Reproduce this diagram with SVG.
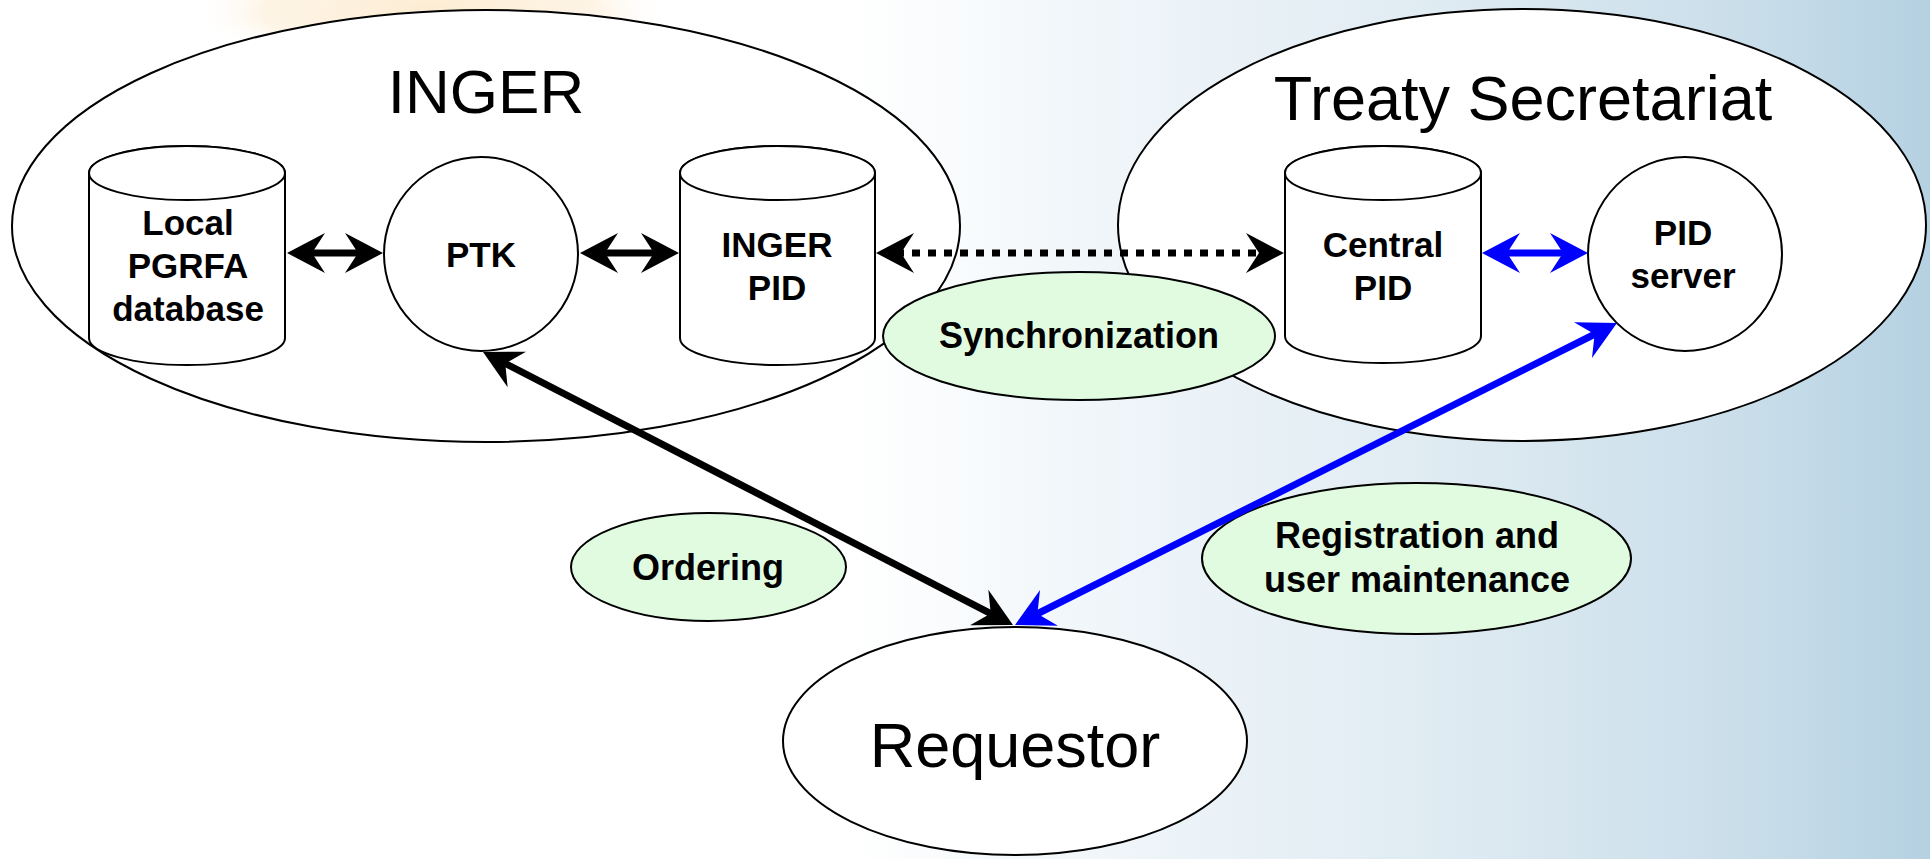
<svg xmlns="http://www.w3.org/2000/svg" width="1930" height="859" viewBox="0 0 1930 859">
<defs>
<linearGradient id="bg" x1="0" y1="0" x2="1" y2="0">
<stop offset="0" stop-color="#ffffff"/>
<stop offset="0.44" stop-color="#ffffff"/>
<stop offset="0.58" stop-color="#eff5f9"/>
<stop offset="0.75" stop-color="#dfebf2"/>
<stop offset="0.9" stop-color="#cadeea"/>
<stop offset="1" stop-color="#b5d1e2"/>
</linearGradient>
<radialGradient id="blob" cx="0.5" cy="0.5" r="0.5">
<stop offset="0" stop-color="#fce6c4"/>
<stop offset="0.7" stop-color="#fdf1de"/>
<stop offset="1" stop-color="#ffffff" stop-opacity="0"/>
</radialGradient>
<marker id="ah" viewBox="-40 -22 62 44" markerWidth="62" markerHeight="44" refX="0" refY="0" markerUnits="userSpaceOnUse" orient="auto-start-reverse">
<path d="M20,0 L-18,-20 L-5,0 L-18,20 Z" fill="#000"/>
</marker>
<marker id="ahb" viewBox="-40 -22 62 44" markerWidth="62" markerHeight="44" refX="0" refY="0" markerUnits="userSpaceOnUse" orient="auto-start-reverse">
<path d="M20,0 L-18,-20 L-5,0 L-18,20 Z" fill="#0000ff"/>
</marker>
</defs>
<style>
.shape{fill:#fff;stroke:#000;stroke-width:2}
.lbl{fill:#e0fbe0;stroke:#000;stroke-width:2}
.big{font-family:"Liberation Sans",Arial,sans-serif;font-size:62px;text-anchor:middle;fill:#000}
.bold{font-family:"Liberation Sans",Arial,sans-serif;font-size:35px;font-weight:bold;text-anchor:middle;fill:#000}
.edge{font-size:36px}
.conn{fill:none;stroke:#000;stroke-width:7}
.blue{stroke:#0000ff}
.dot{stroke-dasharray:8 8}
</style>
<rect x="0" y="0" width="1930" height="859" fill="url(#bg)"/>
<ellipse cx="430" cy="10" rx="240" ry="60" fill="url(#blob)" opacity="0.75"/>

<g id="inger">
<ellipse class="shape" cx="486" cy="226" rx="474" ry="216"/>
<text class="big" x="486" y="113">INGER</text>
</g>
<g id="treaty">
<ellipse class="shape" cx="1522" cy="225" rx="404" ry="216"/>
<text class="big" x="1523" y="120" style="font-size:63px">Treaty Secretariat</text>
</g>
<g id="requestor">
<ellipse class="shape" cx="1015" cy="741" rx="232" ry="114"/>
<text class="big" x="1015" y="767" style="font-size:63px">Requestor</text>
</g>

<g id="local-db">
<path class="shape" d="M89,173 L89,338 A98,27 0 0 0 285,338 L285,173 A98,27 0 0 0 89,173 Z"/>
<ellipse class="shape" cx="187" cy="173" rx="98" ry="27"/>
<text class="bold" x="188" y="235">Local</text>
<text class="bold" x="188" y="278">PGRFA</text>
<text class="bold" x="188" y="321">database</text>
</g>
<g id="ptk">
<circle class="shape" cx="481" cy="254" r="97"/>
<text class="bold" x="481" y="267">PTK</text>
</g>
<g id="inger-pid">
<path class="shape" d="M680,173 L680,338 A97.5,27 0 0 0 875,338 L875,173 A97.5,27 0 0 0 680,173 Z"/>
<ellipse class="shape" cx="777.5" cy="173" rx="97.5" ry="27"/>
<text class="bold" x="777" y="257">INGER</text>
<text class="bold" x="777" y="300">PID</text>
</g>
<g id="central-pid">
<path class="shape" d="M1285,173 L1285,336 A98,27 0 0 0 1481,336 L1481,173 A98,27 0 0 0 1285,173 Z"/>
<ellipse class="shape" cx="1383" cy="173" rx="98" ry="27"/>
<text class="bold" x="1383" y="257">Central</text>
<text class="bold" x="1383" y="300">PID</text>
</g>
<g id="pid-server">
<circle class="shape" cx="1685" cy="254" r="97"/>
<text class="bold" x="1683" y="245">PID</text>
<text class="bold" x="1683" y="288">server</text>
</g>

<g id="sync">
<ellipse class="lbl" cx="1079" cy="336" rx="196" ry="64"/>
<text class="bold edge" x="1079" y="348">Synchronization</text>
</g>
<g id="ordering">
<ellipse class="lbl" cx="708.5" cy="567" rx="137.5" ry="54"/>
<text class="bold edge" x="708" y="580">Ordering</text>
</g>
<g id="registration">
<ellipse class="lbl" cx="1416.5" cy="558.5" rx="214.5" ry="75.5"/>
<text class="bold edge" x="1417" y="548">Registration and</text>
<text class="bold edge" x="1417" y="592">user maintenance</text>
</g>

<g id="connectors">
<line class="conn" x1="307" y1="253" x2="363" y2="253" marker-start="url(#ah)" marker-end="url(#ah)"/>
<line class="conn" x1="600" y1="253" x2="659" y2="253" marker-start="url(#ah)" marker-end="url(#ah)"/>
<line class="conn dot" x1="896" y1="253" x2="1264" y2="253" marker-start="url(#ah)" marker-end="url(#ah)"/>
<line class="conn blue" x1="1502" y1="253" x2="1568" y2="253" marker-start="url(#ahb)" marker-end="url(#ahb)"/>
<line class="conn" x1="500.8" y1="361.2" x2="995.2" y2="615.8" marker-start="url(#ah)" marker-end="url(#ah)"/>
<line class="conn blue" x1="1599.1" y1="332" x2="1032.9" y2="616" marker-start="url(#ahb)" marker-end="url(#ahb)"/>
</g>
</svg>
